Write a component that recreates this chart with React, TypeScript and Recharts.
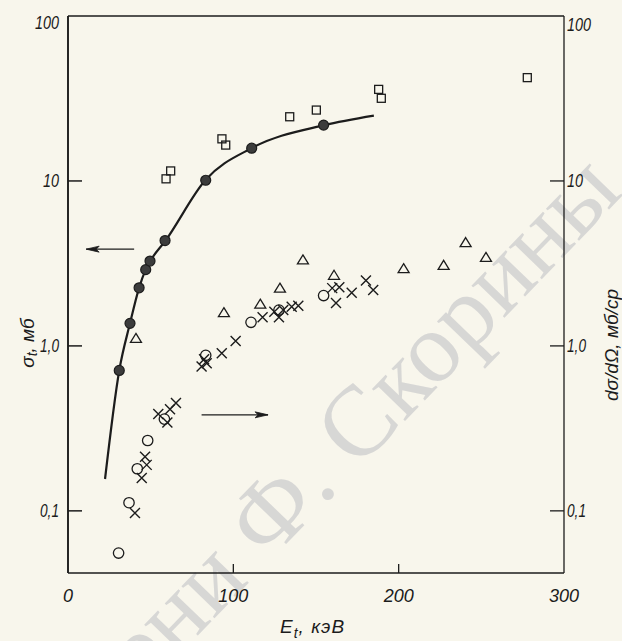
import React from 'react';
import { ComposedChart, Scatter, Line, XAxis, YAxis, ReferenceLine } from 'recharts';

// ---- tick values / labels ----
const xTicks = [0, 100, 200, 300];
const xTickLabels = ['0', '100', '200', '300'];
const yTicks = [0.1, 1, 10, 100];
const yTickLabels = ['0,1', '1,0', '10', '100'];

// ---- data (E_t in keV, cross sections in mb / mb/sr) ----
const curve = [
  { x: 22.4, y: 0.156 },
  { x: 31, y: 0.71 },
  { x: 37.5, y: 1.37 },
  { x: 43, y: 2.25 },
  { x: 47, y: 2.9 },
  { x: 50, y: 3.3 },
  { x: 59, y: 4.35 },
  { x: 83, y: 10.1 },
  { x: 111, y: 15.8 },
  { x: 155, y: 21.8 },
  { x: 185, y: 24.9 },
];

const filledCircles = [
  { x: 31, y: 0.71 },
  { x: 37.5, y: 1.37 },
  { x: 43, y: 2.25 },
  { x: 47, y: 2.9 },
  { x: 49.6, y: 3.27 },
  { x: 58.7, y: 4.35 },
  { x: 83.3, y: 10.1 },
  { x: 111.1, y: 15.8 },
  { x: 154.6, y: 21.8 },
];

const squares = [
  { x: 59.3, y: 10.3 },
  { x: 62.1, y: 11.5 },
  { x: 93.1, y: 18.0 },
  { x: 95.4, y: 16.5 },
  { x: 134.1, y: 24.5 },
  { x: 150.2, y: 26.9 },
  { x: 187.9, y: 35.9 },
  { x: 189.5, y: 31.7 },
  { x: 277.8, y: 42.3 },
];

const triangles = [
  { x: 41.1, y: 1.11 },
  { x: 94.3, y: 1.59 },
  { x: 116.3, y: 1.79 },
  { x: 128.2, y: 2.24 },
  { x: 142.1, y: 3.32 },
  { x: 160.9, y: 2.68 },
  { x: 203.0, y: 2.94 },
  { x: 227.2, y: 3.08 },
  { x: 240.5, y: 4.23 },
  { x: 252.8, y: 3.44 },
];

const openCircles = [
  { x: 30.6, y: 0.0555 },
  { x: 36.9, y: 0.112 },
  { x: 41.9, y: 0.18 },
  { x: 48.2, y: 0.267 },
  { x: 58.3, y: 0.36 },
  { x: 83.3, y: 0.877 },
  { x: 110.7, y: 1.39 },
  { x: 127.6, y: 1.65 },
  { x: 154.6, y: 2.02 },
];

const crosses = [
  { x: 40.5, y: 0.097 },
  { x: 44.6, y: 0.158 },
  { x: 46.6, y: 0.213 },
  { x: 47.6, y: 0.19 },
  { x: 54.6, y: 0.386 },
  { x: 60.1, y: 0.343 },
  { x: 61.7, y: 0.413 },
  { x: 65.3, y: 0.45 },
  { x: 80.8, y: 0.75 },
  { x: 82.3, y: 0.83 },
  { x: 83.9, y: 0.786 },
  { x: 93.0, y: 0.904 },
  { x: 101.4, y: 1.07 },
  { x: 117.7, y: 1.49 },
  { x: 124.8, y: 1.61 },
  { x: 127.6, y: 1.49 },
  { x: 130.2, y: 1.65 },
  { x: 135.3, y: 1.73 },
  { x: 139.3, y: 1.75 },
  { x: 159.8, y: 2.24 },
  { x: 164.1, y: 2.27 },
  { x: 162.1, y: 1.82 },
  { x: 171.6, y: 2.1 },
  { x: 180.2, y: 2.49 },
  { x: 184.6, y: 2.18 },
];

const leftArrow = [
  { x: 11, y: 3.86 },
  { x: 40, y: 3.86 },
];
const rightArrow = [
  { x: 80.8, y: 0.382 },
  { x: 121, y: 0.382 },
];

// ---- styling ----
const INK = '#1c1c1c';
const FONT = "'Liberation Sans', Arial, sans-serif";
const W = 622;
const H = 641;

const labelFor = (v: number) => {
  const i = yTicks.findIndex((t) => Math.abs(t - v) / v < 1e-6);
  return i >= 0 ? yTickLabels[i] : String(v);
};
const xLabelFor = (v: number) => {
  const i = xTicks.indexOf(v);
  return i >= 0 ? xTickLabels[i] : String(v);
};
const narrowWidth = (s: string) => s.replace(/,/g, '').length * 8 + (s.includes(',') ? 3 : 0);

const LeftTick = (p: any) => {
  const v = p.payload.value;
  const top = Math.abs(v - 100) < 1e-6;
  const s = labelFor(v);
  return (
    <g>
      {!top && <line x1={p.x} x2={p.x + 14} y1={p.y} y2={p.y} stroke={INK} strokeWidth={1.5} />}
      <text
        x={p.x - 9}
        y={p.y + (top ? 7 : 0)}
        textAnchor="end"
        dominantBaseline="central"
        fontFamily={FONT}
        fontStyle="italic"
        fontSize={18}
        fill={INK}
        textLength={narrowWidth(s)}
        lengthAdjust="spacingAndGlyphs"
      >
        {s}
      </text>
    </g>
  );
};

const RightTick = (p: any) => {
  const v = p.payload.value;
  const top = Math.abs(v - 100) < 1e-6;
  const s = labelFor(v);
  return (
    <g>
      {!top && <line x1={p.x - 14} x2={p.x} y1={p.y} y2={p.y} stroke={INK} strokeWidth={1.3} />}
      <text
        x={p.x + 3}
        y={p.y + (top ? 9 : 0)}
        textAnchor="start"
        dominantBaseline="central"
        fontFamily={FONT}
        fontStyle="italic"
        fontSize={18}
        fill={INK}
        textLength={narrowWidth(s)}
        lengthAdjust="spacingAndGlyphs"
      >
        {s}
      </text>
    </g>
  );
};

const BottomTick = (p: any) => {
  const v = p.payload.value;
  const inner = v !== 0 && v !== 300;
  return (
    <g>
      {inner && <line x1={p.x} x2={p.x} y1={p.y} y2={p.y - 9} stroke={INK} strokeWidth={1.3} />}
      <text
        x={p.x}
        y={p.y + 23}
        textAnchor="middle"
        dominantBaseline="central"
        fontFamily={FONT}
        fontStyle="italic"
        fontSize={18}
        fill={INK}
      >
        {xLabelFor(v)}
      </text>
    </g>
  );
};

const FilledCircle = (p: any) => (
  <circle cx={p.cx} cy={p.cy} r={5} fill="#3c3c3c" stroke={INK} strokeWidth={1.2} />
);
const OpenCircle = (p: any) => (
  <circle cx={p.cx} cy={p.cy} r={5.2} fill="none" stroke={INK} strokeWidth={1.3} />
);
const Square = (p: any) => (
  <rect x={p.cx - 4} y={p.cy - 4} width={8} height={8} fill="none" stroke={INK} strokeWidth={1.3} />
);
const Triangle = (p: any) => (
  <path
    d={`M${p.cx},${p.cy - 5} L${p.cx + 5.5},${p.cy + 4} L${p.cx - 5.5},${p.cy + 4} Z`}
    fill="none"
    stroke={INK}
    strokeWidth={1.3}
  />
);
const Cross = (p: any) => (
  <path
    d={`M${p.cx - 5},${p.cy - 5} L${p.cx + 5},${p.cy + 5} M${p.cx + 5},${p.cy - 5} L${p.cx - 5},${p.cy + 5}`}
    stroke={INK}
    strokeWidth={1.4}
    fill="none"
  />
);

const makeArrowDot = (headIndex: number, dir: number) => (p: any) => {
  if (p.index !== headIndex) return <g key={`a${p.index}`} />;
  const { cx, cy } = p;
  const L = 13;
  const hw = 3;
  return (
    <path
      key={`a${p.index}`}
      d={`M${cx},${cy} L${cx - dir * L},${cy - hw} L${cx - dir * (L - 3)},${cy} L${cx - dir * L},${cy + hw} Z`}
      fill={INK}
      stroke={INK}
      strokeWidth={0.8}
    />
  );
};

export default function App() {
  return (
    <div style={{ position: 'absolute', left: 0, top: 0, width: W, height: H, background: '#f8f6ec', overflow: 'hidden' }}>
      <svg width={W} height={H} style={{ position: 'absolute', left: 0, top: 0 }}>
        <text
          x={64}
          y={774}
          transform="rotate(-46 64 774)"
          fontFamily="'Liberation Serif', 'DejaVu Serif', serif"
          fontSize={100}
          fill="#d2d2d2"
          opacity={0.85}
        >
          имени Ф. Скорины
        </text>
        <text
          x={280}
          y={633}
          fontFamily={FONT}
          fontStyle="italic"
          fontSize={19}
          fill={INK}
          letterSpacing={1}
        >
          E
          <tspan dy={5} fontSize={14}>t</tspan>
          <tspan dy={-5}>, кэВ</tspan>
        </text>
        <text
          x={27}
          y={343}
          transform="rotate(-90 27 343)"
          textAnchor="middle"
          dominantBaseline="central"
          fontFamily={FONT}
          fontStyle="italic"
          fontSize={19}
          fill={INK}
        >
          σ
          <tspan dy={5} fontSize={14}>t</tspan>
          <tspan dy={-5}>, мб</tspan>
        </text>
        <text
          x={611}
          y={345}
          transform="rotate(-90 611 345)"
          textAnchor="middle"
          dominantBaseline="central"
          fontFamily={FONT}
          fontStyle="italic"
          fontSize={19}
          fill={INK}
        >
          dσ/dΩ, мб/ср
        </text>
      </svg>
      <div style={{ position: 'absolute', left: 0, top: 0 }}>
        <ComposedChart width={W} height={H} margin={{ top: 16, right: 8, bottom: 28, left: 8 }}>
          <XAxis
            dataKey="x"
            type="number"
            domain={[0, 300]}
            ticks={xTicks}
            height={40}
            tickSize={0}
            tickMargin={0}
            tickLine={false}
            tick={<BottomTick />}
            axisLine={{ stroke: INK, strokeWidth: 1.6 }}
            allowDataOverflow
          />
          <YAxis
            yAxisId="left"
            dataKey="y"
            type="number"
            scale="log"
            domain={[0.042, 100]}
            ticks={yTicks}
            width={60}
            tickSize={0}
            tickMargin={0}
            tickLine={false}
            tick={<LeftTick />}
            axisLine={{ stroke: INK, strokeWidth: 1.9 }}
            allowDataOverflow
          />
          <YAxis
            yAxisId="right"
            orientation="right"
            dataKey="y"
            type="number"
            scale="log"
            domain={[0.042, 100]}
            ticks={yTicks}
            width={50}
            tickSize={0}
            tickMargin={0}
            tickLine={false}
            tick={<RightTick />}
            axisLine={{ stroke: INK, strokeWidth: 1.3 }}
            allowDataOverflow
          />
          <ReferenceLine yAxisId="left" y={100} stroke={INK} strokeWidth={1.6} />
          <Line
            yAxisId="left"
            data={curve}
            dataKey="y"
            type="monotone"
            stroke={INK}
            strokeWidth={2.2}
            dot={false}
            activeDot={false}
            isAnimationActive={false}
          />
          <Line
            yAxisId="left"
            data={leftArrow}
            dataKey="y"
            type="linear"
            stroke={INK}
            strokeWidth={1.3}
            dot={makeArrowDot(0, -1)}
            activeDot={false}
            isAnimationActive={false}
          />
          <Line
            yAxisId="right"
            data={rightArrow}
            dataKey="y"
            type="linear"
            stroke={INK}
            strokeWidth={1.3}
            dot={makeArrowDot(1, 1)}
            activeDot={false}
            isAnimationActive={false}
          />
          <Scatter yAxisId="left" data={filledCircles} dataKey="y" shape={FilledCircle} isAnimationActive={false} />
          <Scatter yAxisId="left" data={squares} dataKey="y" shape={Square} isAnimationActive={false} />
          <Scatter yAxisId="right" data={triangles} dataKey="y" shape={Triangle} isAnimationActive={false} />
          <Scatter yAxisId="right" data={openCircles} dataKey="y" shape={OpenCircle} isAnimationActive={false} />
          <Scatter yAxisId="right" data={crosses} dataKey="y" shape={Cross} isAnimationActive={false} />
        </ComposedChart>
      </div>
    </div>
  );
}
